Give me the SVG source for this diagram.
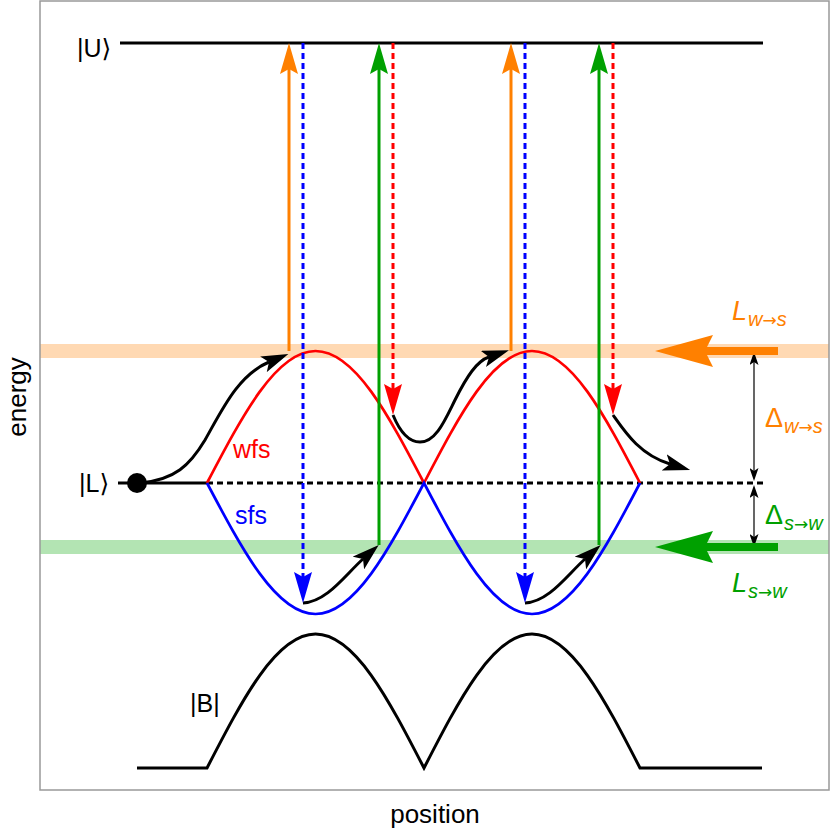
<svg xmlns="http://www.w3.org/2000/svg" width="830" height="830" viewBox="0 0 830 830">
<defs>
<style>
text{font-family:"Liberation Sans",Arial,"DejaVu Sans",sans-serif;}
.lbl{font-size:25px;fill:#000;}
.ax{font-size:26px;fill:#000;}
.it{font-style:italic;}
.sub{font-size:20px;font-style:italic;}
.arr{font-family:"DejaVu Sans",sans-serif;font-size:17px;font-style:normal;}
.blk{fill:none;stroke:#000;stroke-width:3;}
.wfs{fill:none;stroke:#f00;stroke-width:2.7;}
.sfs{fill:none;stroke:#00f;stroke-width:2.7;}
.or{stroke:#ff8000;stroke-width:3;fill:none;}
.gr{stroke:#00a000;stroke-width:3;fill:none;}
.bd{stroke:#00f;stroke-width:3;fill:none;stroke-dasharray:6 4;}
.rd{stroke:#f00;stroke-width:3;fill:none;stroke-dasharray:6 4;}
.kd{stroke:#000;stroke-width:3;fill:none;stroke-dasharray:6 4;}
.ka{stroke:#000;stroke-width:3;fill:none;}
.thin{stroke:#000;stroke-width:1.2;fill:none;}
.band{stroke-width:14;fill:none;}
</style>
<marker id="hOr" viewBox="0 -9 31 18" refX="5" refY="0" markerWidth="31" markerHeight="18" markerUnits="userSpaceOnUse" orient="auto"><path d="M0,-9 L31,0 L0,9 L5,0 Z" fill="#ff8000"/></marker>
<marker id="hGr" viewBox="0 -9 31 18" refX="5" refY="0" markerWidth="31" markerHeight="18" markerUnits="userSpaceOnUse" orient="auto"><path d="M0,-9 L31,0 L0,9 L5,0 Z" fill="#00a000"/></marker>
<marker id="hBl" viewBox="0 -9 31 18" refX="5" refY="0" markerWidth="31" markerHeight="18" markerUnits="userSpaceOnUse" orient="auto"><path d="M0,-9 L31,0 L0,9 L5,0 Z" fill="#00f"/></marker>
<marker id="hRd" viewBox="0 -9 31 18" refX="5" refY="0" markerWidth="31" markerHeight="18" markerUnits="userSpaceOnUse" orient="auto"><path d="M0,-9 L31,0 L0,9 L5,0 Z" fill="#f00"/></marker>
<marker id="hK" viewBox="0 -8.5 27 17" refX="6" refY="0" markerWidth="27" markerHeight="17" markerUnits="userSpaceOnUse" orient="auto"><path d="M0,-8.5 L27,0 L0,8.5 L6,0 Z" fill="#000"/></marker>
<marker id="hT" viewBox="0 -4.5 13 9" refX="3" refY="0" markerWidth="13" markerHeight="9" markerUnits="userSpaceOnUse" orient="auto-start-reverse"><path d="M0,-4.5 L13,0 L0,4.5 L3,0 Z" fill="#000"/></marker>
<marker id="hBigOr" viewBox="0 -16 58 32" refX="8" refY="0" markerWidth="58" markerHeight="32" markerUnits="userSpaceOnUse" orient="auto"><path d="M0,-16 L58,0 L0,16 L8,0 Z" fill="#ff8000"/></marker>
<marker id="hBigGr" viewBox="0 -16 58 32" refX="8" refY="0" markerWidth="58" markerHeight="32" markerUnits="userSpaceOnUse" orient="auto"><path d="M0,-16 L58,0 L0,16 L8,0 Z" fill="#00a000"/></marker>
</defs>
<rect width="830" height="830" fill="#fff"/>

<g id="bands">
<line class="band" x1="40" y1="351" x2="829" y2="351" stroke="#ffd9b3"/>
<line class="band" x1="40" y1="547" x2="829" y2="547" stroke="#b3e4b3"/>
</g>

<g id="level-U">
<line class="blk" x1="120" y1="43" x2="763" y2="43"/>
<text class="lbl" x="77" y="57">|U⟩</text>
</g>

<g id="level-L">
<line class="blk" x1="118" y1="483" x2="207" y2="483"/>
<line class="kd" x1="207" y1="483" x2="763" y2="483"/>
<circle cx="137" cy="483" r="10" fill="#000"/>
<text class="lbl" x="79" y="492">|L⟩</text>
</g>

<g id="wfs">
<path class="wfs" d="M207,483 C242.4,415.4 276.2,351 315.5,351 C354.8,351 388.6,415.4 424,483 C459.2,415.4 493.1,351 532,351 C570.9,351 604.8,415.4 640,483"/>
<text class="lbl" x="233" y="458" style="fill:#f00">wfs</text>
</g>

<g id="sfs">
<path class="sfs" d="M207,483 C242.4,550.1 276.2,614 315.5,614 C354.8,614 388.6,550.1 424,483 C459.2,550.1 493.1,614 532,614 C570.9,614 604.8,550.1 640,483"/>
<text class="lbl" x="235" y="524" style="fill:#00f">sfs</text>
</g>

<g id="field-B">
<path class="blk" d="M137,768 L207,768 C242.4,699.4 276.2,634 315.5,634 C354.8,634 388.6,699.4 424,768 C459.2,699.4 493.1,634 532,634 C570.9,634 604.8,699.4 640,768 L762,768"/>
<text class="lbl" x="190" y="712">|B|</text>
</g>

<g id="connectors">
<path class="ka" d="M140,483 C175,480 190,465 205,440 C222,410 238,375 269,362" marker-end="url(#hK)"/>
<path class="ka" d="M393,415 C400,432 408,442 420,442 C436,442 445,420 455,400 C467,376 477,361 489,357" marker-end="url(#hK)"/>
<path class="ka" d="M303,603 C327,602 346,574 363,559" marker-end="url(#hK)"/>
<path class="ka" d="M525,603 C549,602 568,574 585,559" marker-end="url(#hK)"/>
<path class="ka" d="M613,415 C625,432 640,455 670,464" marker-end="url(#hK)"/>

<line class="or" x1="289" y1="351" x2="289" y2="69" marker-end="url(#hOr)"/>
<line class="bd" x1="303" y1="43" x2="303" y2="577" marker-end="url(#hBl)"/>
<line class="gr" x1="379" y1="545" x2="379" y2="69" marker-end="url(#hGr)"/>
<line class="rd" x1="393" y1="43" x2="393" y2="389" marker-end="url(#hRd)"/>
<line class="or" x1="511" y1="351" x2="511" y2="69" marker-end="url(#hOr)"/>
<line class="bd" x1="525" y1="43" x2="525" y2="577" marker-end="url(#hBl)"/>
<line class="gr" x1="599" y1="545" x2="599" y2="69" marker-end="url(#hGr)"/>
<line class="rd" x1="613" y1="43" x2="613" y2="389" marker-end="url(#hRd)"/>

<line class="thin" x1="754" y1="362" x2="754" y2="471" marker-start="url(#hT)" marker-end="url(#hT)"/>
<line class="thin" x1="754" y1="495" x2="754" y2="537" marker-start="url(#hT)" marker-end="url(#hT)"/>

<line x1="778" y1="351" x2="705" y2="351" stroke="#ff8000" stroke-width="8" marker-end="url(#hBigOr)"/>
<line x1="778" y1="547" x2="705" y2="547" stroke="#00a000" stroke-width="8" marker-end="url(#hBigGr)"/>
</g>

<g id="labels-right">
<text x="732" y="320" style="fill:#ff8000;font-size:27px" class="it">L<tspan class="sub" x="748" y="326">w<tspan class="arr">→</tspan>s</tspan></text>
<text x="765" y="427" style="fill:#ff8000;font-size:27px">Δ<tspan class="sub" x="784" y="433">w<tspan class="arr">→</tspan>s</tspan></text>
<text x="765" y="524" style="fill:#00a000;font-size:27px">Δ<tspan class="sub" x="784" y="530">s<tspan class="arr">→</tspan>w</tspan></text>
<text x="732" y="592" style="fill:#00a000;font-size:27px" class="it">L<tspan class="sub" x="748" y="598">s<tspan class="arr">→</tspan>w</tspan></text>
</g>

<g id="frame">
<rect x="40" y="1" width="789" height="789" fill="none" stroke="#999" stroke-width="1.5"/>
<text class="ax" x="435" y="823" text-anchor="middle">position</text>
<text class="ax" transform="translate(26,397) rotate(-90)" text-anchor="middle">energy</text>
</g>
</svg>
